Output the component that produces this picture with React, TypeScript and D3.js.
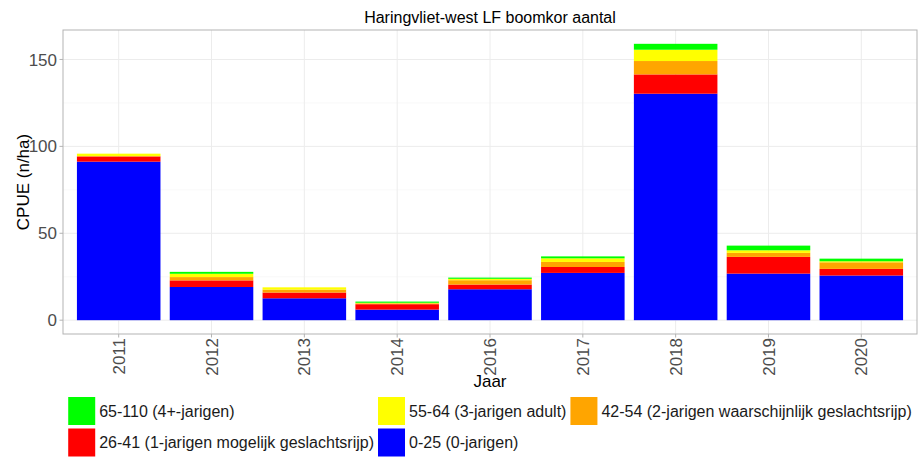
import React, { useEffect, useRef } from "react";
import * as d3 from "d3";

const years = ["2011", "2012", "2013", "2014", "2016", "2017", "2018", "2019", "2020"];
const v0_25 = [91.2, 19.1, 12.6, 6.1, 17.8, 27.2, 130.3, 26.8, 25.7];
const v26_41 = [3.0, 3.8, 3.3, 3.1, 2.7, 3.4, 11.1, 9.6, 3.8];
const v42_54 = [0.2, 1.9, 1.7, 0.5, 2.5, 2.9, 7.7, 2.3, 3.8];
const v55_64 = [1.4, 1.9, 1.3, 0.3, 0.8, 2.1, 6.5, 1.5, 0.6];
const v65_110 = [0, 1.1, 0, 0.7, 0.7, 1.1, 3.4, 2.7, 1.5];

const seriesNames = [
  "65-110 (4+-jarigen)",
  "55-64 (3-jarigen adult)",
  "42-54 (2-jarigen waarschijnlijk geslachtsrijp)",
  "26-41 (1-jarigen mogelijk geslachtsrijp)",
  "0-25 (0-jarigen)",
];
const seriesColors = ["#00ff00", "#ffff00", "#ffa500", "#ff0000", "#0000ff"];
const yTicks = [0, 50, 100, 150];
const yMinor = [25, 75, 125];

const FONT = "'Liberation Sans', Arial, sans-serif";

export default function App() {
  const ref = useRef<SVGSVGElement | null>(null);

  useEffect(() => {
    const svg = d3.select(ref.current);
    svg.selectAll("*").remove();

    const W = 919, H = 460;
    const left = 63, right = 917, top = 30, bottom = 334;

    const seriesVals = [v65_110, v55_64, v42_54, v26_41, v0_25];
    const rows = years.map((y, i) => {
      const r: any = { year: y };
      seriesNames.forEach((n, k) => (r[n] = seriesVals[k][i]));
      return r;
    });
    const stackKeys = seriesNames.slice().reverse();
    const stacked = d3.stack<any>().keys(stackKeys)(rows);
    const maxTotal = d3.max(rows, (r: any) => d3.sum(seriesNames, (n) => r[n])) as number;

    const y = d3.scaleLinear().domain([-0.05 * maxTotal, maxTotal * 1.05]).range([bottom, top]);
    const x = d3.scaleBand().domain(years).range([left, right]).paddingInner(0.1).paddingOuter(0.15);

    svg.append("rect").attr("x", 0).attr("y", 0).attr("width", W).attr("height", H).attr("fill", "#fff");

    const g = svg.append("g");
    yMinor.forEach((t) => {
      g.append("line").attr("x1", left).attr("x2", right).attr("y1", y(t)).attr("y2", y(t))
        .attr("stroke", "#f3f3f3").attr("stroke-width", 0.5);
    });
    yTicks.forEach((t) => {
      g.append("line").attr("x1", left).attr("x2", right).attr("y1", y(t)).attr("y2", y(t))
        .attr("stroke", "#ececec").attr("stroke-width", 1);
    });
    years.forEach((yr) => {
      const cx = (x(yr) as number) + x.bandwidth() / 2;
      g.append("line").attr("x1", cx).attr("x2", cx).attr("y1", top).attr("y2", bottom)
        .attr("stroke", "#ececec").attr("stroke-width", 1);
    });

    stacked.forEach((layer) => {
      const color = seriesColors[seriesNames.indexOf(layer.key)];
      g.selectAll(null).data(layer).enter().append("rect")
        .attr("x", (d: any) => x(d.data.year) as number)
        .attr("width", x.bandwidth())
        .attr("y", (d: any) => y(d[1]))
        .attr("height", (d: any) => Math.max(0, y(d[0]) - y(d[1])))
        .attr("fill", color);
    });

    g.append("rect").attr("x", left).attr("y", top).attr("width", right - left).attr("height", bottom - top)
      .attr("fill", "none").attr("stroke", "#b3b3b3").attr("stroke-width", 1);

    yTicks.forEach((t) => {
      g.append("line").attr("x1", left - 3.5).attr("x2", left).attr("y1", y(t)).attr("y2", y(t))
        .attr("stroke", "#b3b3b3");
      g.append("text").attr("x", left - 6).attr("y", y(t)).attr("dy", "0.36em")
        .attr("text-anchor", "end").attr("font-family", FONT).attr("font-size", 17)
        .attr("fill", "#4d4d4d").text(String(t));
    });
    years.forEach((yr) => {
      const cx = (x(yr) as number) + x.bandwidth() / 2;
      g.append("line").attr("x1", cx).attr("x2", cx).attr("y1", bottom).attr("y2", bottom + 3.5)
        .attr("stroke", "#b3b3b3");
      g.append("text").attr("transform", `translate(${cx},${bottom + 4}) rotate(-90)`)
        .attr("dy", "0.36em").attr("text-anchor", "end").attr("font-family", FONT)
        .attr("font-size", 17).attr("fill", "#4d4d4d").text(yr);
    });

    svg.append("text").attr("x", (left + right) / 2).attr("y", 23).attr("text-anchor", "middle")
      .attr("font-family", FONT).attr("font-size", 16).attr("fill", "#000")
      .text("Haringvliet-west LF boomkor aantal");
    svg.append("text").attr("x", (left + right) / 2).attr("y", 387).attr("text-anchor", "middle")
      .attr("font-family", FONT).attr("font-size", 17).attr("fill", "#000").text("Jaar");
    svg.append("text").attr("transform", `translate(29,${(top + bottom) / 2}) rotate(-90)`)
      .attr("text-anchor", "middle").attr("font-family", FONT).attr("font-size", 17)
      .attr("fill", "#000").text("CPUE (n/ha)");

    const lg = svg.append("g");
    const keyW = 27, keyH = 28, gapKT = 4, gapCol = 4;
    const rowY = [397, 428.5];
    const widths = seriesNames.map((n) => {
      const t = lg.append("text").attr("font-family", FONT).attr("font-size", 16).text(n);
      const w = (t.node() as SVGTextElement).getComputedTextLength();
      t.remove();
      return w;
    });
    const nCol = 3;
    const colW = d3.range(nCol).map((c) =>
      d3.max(seriesNames.map((_, i) => i).filter((i) => i % nCol === c), (i) => widths[i]) as number);
    const totalW = d3.sum(colW.map((w) => keyW + gapKT + w)) + gapCol * (nCol - 1);
    const startX = (left + right) / 2 - totalW / 2;
    const colX: number[] = [];
    let cx0 = startX;
    colW.forEach((w) => { colX.push(cx0); cx0 += keyW + gapKT + w + gapCol; });
    seriesNames.forEach((n, i) => {
      const c = i % nCol, r = Math.floor(i / nCol);
      lg.append("rect").attr("x", colX[c]).attr("y", rowY[r]).attr("width", keyW).attr("height", keyH)
        .attr("fill", seriesColors[i]);
      lg.append("text").attr("x", colX[c] + keyW + gapKT).attr("y", rowY[r] + keyH / 2).attr("dy", "0.36em")
        .attr("font-family", FONT).attr("font-size", 16).attr("fill", "#1a1a1a").text(n);
    });
  }, []);

  return (
    <svg ref={ref} width={919} height={460}
      style={{ position: "absolute", left: 0, top: 0, display: "block" }} />
  );
}
